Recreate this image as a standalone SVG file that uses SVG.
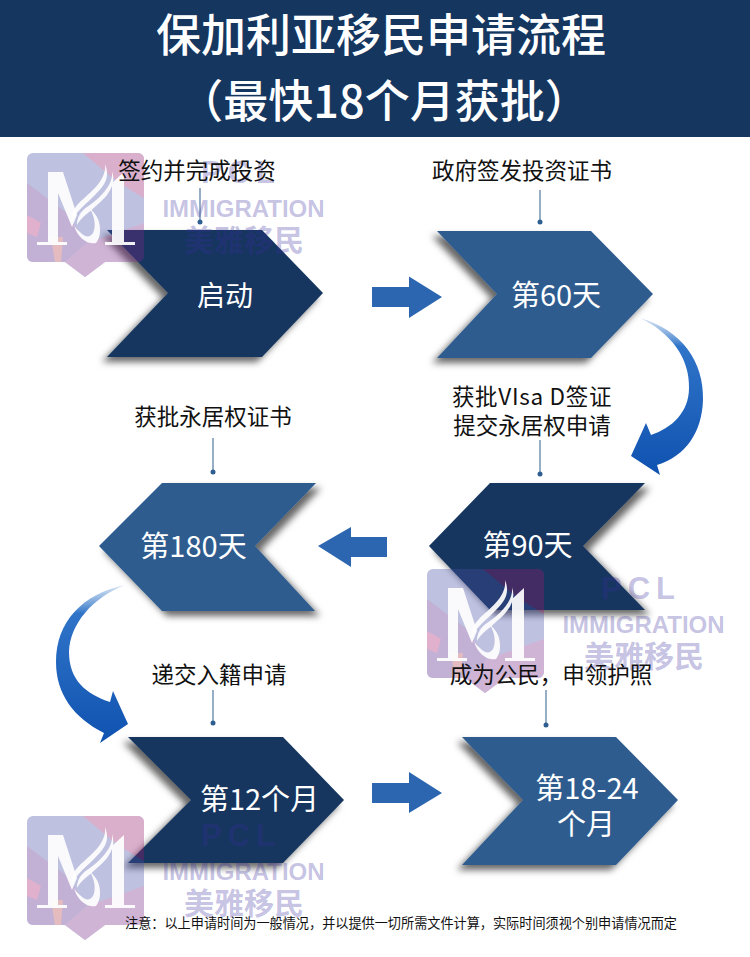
<svg xmlns="http://www.w3.org/2000/svg" width="750" height="957" viewBox="0 0 750 957">
<style>
text{font-family:"Noto Sans CJK SC","Noto Sans",sans-serif}
.title{fill:#fff;font-size:45px;text-anchor:middle;font-weight:500}
.lbl{fill:#111;font-size:22.5px;text-anchor:middle}
.day{fill:#fff;font-size:29px;text-anchor:middle}
.dark{fill:#14365f}
.mid{fill:#2f5c8f}
.r{filter:url(#shr)}
.l{filter:url(#shl)}
.lead{stroke:#5f83a8;stroke-width:1.3;fill:none}
.dot{fill:#2f5f90}
.blk{fill:#2d66b0}
.wmt{fill:#3b2f9f;fill-opacity:.3;font-family:"Liberation Sans",sans-serif;font-weight:700;text-anchor:middle}
.wm-m{fill:#fff;fill-opacity:.92}
</style>
<defs>
<filter id="shr" x="-20%" y="-20%" width="140%" height="140%"><feDropShadow dx="-5" dy="5" stdDeviation="3.5" flood-color="#000" flood-opacity=".6"/></filter>
<filter id="shl" x="-20%" y="-20%" width="140%" height="140%"><feDropShadow dx="5" dy="5" stdDeviation="3.5" flood-color="#000" flood-opacity=".6"/></filter>
<linearGradient id="cv1" x1="0" y1="0" x2="0" y2="1"><stop offset="0" stop-color="#6f9fd8" stop-opacity=".3"/><stop offset=".18" stop-color="#2f74c8"/><stop offset="1" stop-color="#0f52b0"/></linearGradient>
<g id="wm">
<g opacity=".35">
<path d="M6 0H111a6 6 0 0 1 6 6V103a6 6 0 0 1-6 6H78L58 124 38 109H6a6 6 0 0 1-6-6V6a6 6 0 0 1 6-6z" fill="#4851a6"/>
<path d="M56 0H111a6 6 0 0 1 6 6V45L92 30z" fill="#951d6d"/>
<path d="M0 30L40 60 60 90 38 109H6a6 6 0 0 1-6-6z" fill="#56238a"/>
<path d="M0 62L14 70 10 84 0 80z" fill="#a8206e"/>
<path d="M24 84L36 84 34 109H28z" fill="#b5404a"/>
<path d="M60 90L117 70V103a6 6 0 0 1-6 6H78L58 124 38 109z" fill="#7a2a8a"/>
</g>
<text class="wmt" x="214" y="30" font-size="31" letter-spacing="6">PCL</text>
<text class="wmt" x="216.500" y="64" font-size="24">IMMIGRATION</text>
<text class="wmt" x="217" y="98" font-size="30" style="font-family:'Noto Sans CJK SC',sans-serif">美雅移民</text>
<path class="wm-m" d="M10 92H40V89H31V40L45 74 50 62 36 19H21V89H10z"/>
<path class="wm-m" d="M78 92V89H85V30L97 19V89H108V92z"/>
<path class="wm-m" d="M78 11C80 28 62 40 52 50 46 56 44 62 45 70 47 60 58 52 66 44 76 34 84 26 78 11z"/>
<path class="wm-m" d="M85 18C87 32 72 46 60 54 54 58 50 64 50 72 54 64 62 60 70 52 80 44 90 32 85 18z"/>
<path class="wm-m" d="M47 72C50 84 60 92 69 90 74 84 74 74 71 66 69 62 66 58 63 56 68 64 69 74 66 80 63 85 58 84 54 80 52 78 49 76 47 72z"/>
</g>
</defs>
<rect width="750" height="957" fill="#fff"/>
<g id="header">
<rect width="750" height="137" fill="#14365f"/>
<text class="title" x="381" y="52">保加利亚移民申请流程</text>
<text class="title" x="384" y="118">（最快18个月获批）</text>
</g>
<g id="connectors">
<path class="blk" d="M372 287H409V276.500L442 297 409 318V307H372z"/>
<path class="blk" d="M387 537H351V527L318 546 351 567V557H387z"/>
<path class="blk" d="M372 783H409V772L442 793 409 813V803H372z"/>
<path fill="url(#cv1)" d="M640 318C682 330 704 362 703 400 702 432 686 456 657 465L660 475 631 456 646 423 651 435C672 428 689 412 689 388 690 358 670 332 640 318z"/>
<path fill="url(#cv1)" d="M125 585C82 594 56 622 56 662 56 694 74 718 104 733L100 743 128 724 113 691 110 702C86 694 69 680 69 652 70 624 92 598 125 585z"/>
<path class="lead" d="M200 188V222M540 190V222M540 440V474M213 438V472M213 690V723M546 690V725"/>
<circle class="dot" cx="200" cy="222" r="2.500"/><circle class="dot" cx="540" cy="222" r="2.500"/><circle class="dot" cx="540" cy="474" r="2.500"/><circle class="dot" cx="213" cy="472" r="2.500"/><circle class="dot" cx="213" cy="723" r="2.500"/><circle class="dot" cx="546" cy="725" r="2.500"/>
</g>
<g id="node-start"><polygon class="dark r" points="107,230 262,230 323,293 262,357 107,357 168,293"/><text class="day" style="font-size:28px" x="225" y="306">启动</text></g>
<g id="node-60"><polygon class="mid r" points="437,231 591,231 653,294 591,358 437,358 497,294"/><text class="day" x="556" y="306">第60天</text></g>
<g id="node-90"><polygon class="dark l" points="490,483 645,483 583,546 645,610 490,610 429,546"/><text class="day" x="527.500" y="556">第90天</text></g>
<g id="node-180"><polygon class="mid l" points="162,483 316,483 255,546 315,611 162,611 99,546"/><text class="day" x="193.500" y="557">第180天</text></g>
<g id="node-12m"><polygon class="dark r" points="128,737 283,737 344,800 283,863 128,863 191,800"/><text class="day" x="259.500" y="810">第12个月</text></g>
<g id="node-18m"><polygon class="mid r" points="462,737 616,737 678,800 616,865 462,865 523,800"/><text class="day" x="587" y="799">第18-24<tspan x="586" dy="36">个月</tspan></text></g>
<g id="watermarks">
<use href="#wm" x="27" y="153"/><use href="#wm" x="427" y="569"/><use href="#wm" x="27" y="816"/>
</g>
<g id="labels">
<text class="lbl" x="197" y="179">签约并完成投资</text>
<text class="lbl" x="522" y="179">政府签发投资证书</text>
<text class="lbl" x="532" y="405" letter-spacing=".7">获批VIsa D签证</text>
<text class="lbl" x="532" y="434">提交永居权申请</text>
<text class="lbl" x="213" y="425">获批永居权证书</text>
<text class="lbl" x="219" y="683">递交入籍申请</text>
<text class="lbl" x="551" y="683">成为公民，申领护照</text>
<text x="401" y="928" font-size="13.150" fill="#111" text-anchor="middle">注意：以上申请时间为一般情况，并以提供一切所需文件计算，实际时间须视个别申请情况而定</text>
</g>
</svg>
